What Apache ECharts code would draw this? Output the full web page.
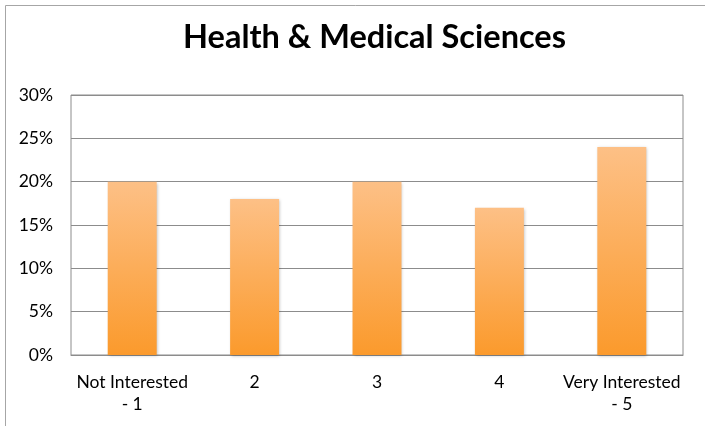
<!DOCTYPE html>
<html><head><meta charset="utf-8">
<script src="https://cdn.jsdelivr.net/npm/echarts@6/dist/echarts.min.js"></script>
<style>html,body{margin:0;padding:0;background:#fff}#c{width:705px;height:426px}</style>
</head><body><div id="c"></div>
<script>
const categories = ['Not Interested\n- 1', '2', '3', '4', 'Very Interested\n- 5'];
const values = [20, 18, 20, 17, 24];
const yTicks = [0, 5, 10, 15, 20, 25, 30];

const chart = echarts.init(document.getElementById('c'));
const font = 'Lato, "Open Sans", sans-serif';
chart.setOption({
  animation: false,
  title: {
    text: 'Health & Medical Sciences', left: 178, top: 16,
    textStyle: {fontFamily: font, fontWeight: 'bold', fontSize: 32.5, color: '#000'}
  },
  graphic: [{type: 'rect', shape: {x: 5.5, y: 5.5, width: 720, height: 440},
    style: {fill: 'none', stroke: '#a6a6a6', lineWidth: 1}, silent: true}],
  grid: {left: 71, right: 22, top: 95, bottom: 71, show: true, borderColor: '#8c8c8c', borderWidth: 1},
  xAxis: {
    type: 'category', data: categories,
    axisLine: {lineStyle: {color: '#8c8c8c'}}, axisTick: {show: false},
    axisLabel: {fontFamily: font, fontSize: 17.5, color: '#000', margin: 16, lineHeight: 22, interval: 0}
  },
  yAxis: {
    type: 'value', min: yTicks[0], max: yTicks[yTicks.length - 1], interval: 5,
    axisLine: {show: false}, axisTick: {show: false},
    splitLine: {lineStyle: {color: '#8c8c8c', width: 1}},
    axisLabel: {formatter: v => v + '%', fontFamily: font, fontSize: 17.5, color: '#000', margin: 18}
  },
  series: [{
    type: 'bar', data: values, barWidth: '40%',
    itemStyle: {
      color: new echarts.graphic.LinearGradient(0, 0, 0, 1, [
        {offset: 0, color: '#fdc086'}, {offset: 1, color: '#fb9a2c'}
      ]),
      shadowColor: 'rgba(0,0,0,0.25)', shadowBlur: 3, shadowOffsetX: 1, shadowOffsetY: 1
    }
  }]
});
</script></body></html>
